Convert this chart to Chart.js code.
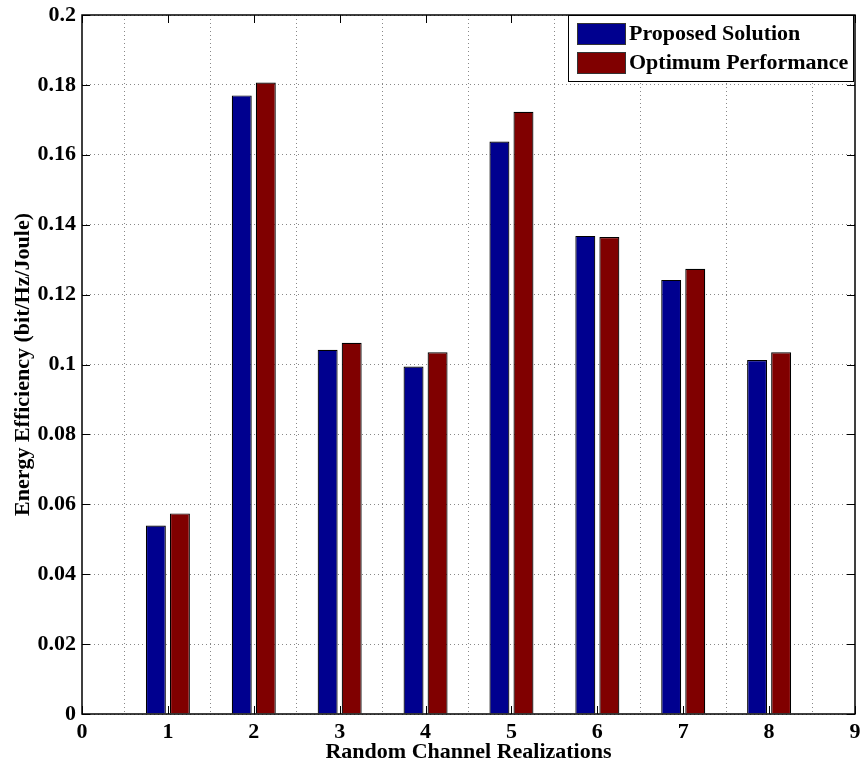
<!DOCTYPE html>
<html>
<head>
<meta charset="utf-8">
<script src="https://cdn.jsdelivr.net/npm/chart.js@4.4.1/dist/chart.umd.min.js"></script>
<style>
  html, body { margin: 0; padding: 0; background: #fff; }
  #wrap { width: 861px; height: 763px; }
</style>
</head>
<body>
<div id="wrap"><canvas id="chart" width="861" height="763"></canvas></div>
<script>
// Data
const realizations = [1, 2, 3, 4, 5, 6, 7, 8];
const proposed = [0.0539, 0.1770, 0.1042, 0.0994, 0.1638, 0.1368, 0.1242, 0.1013];
const optimum = [0.0574, 0.1807, 0.1062, 0.1035, 0.1723, 0.1365, 0.1274, 0.1035];
const seriesNames = ["Proposed Solution", "Optimum Performance"];
const seriesColors = ["#00008F", "#800000"];

const FONT = "'Liberation Serif', 'Times New Roman', serif";

// box round the plot, inward ticks, legend in top right corner
const boxAndLegend = {
  id: "boxAndLegend",
  afterDraw(chart) {
    const ctx = chart.ctx;
    const a = chart.chartArea;
    const xs = chart.scales.x, ys = chart.scales.y;
    ctx.save();
    ctx.strokeStyle = "#000";
    ctx.lineWidth = 1.5;
    ctx.strokeRect(a.left, a.top, a.right - a.left, a.bottom - a.top);

    // inward tick marks like matlab
    ctx.lineWidth = 1;
    ctx.beginPath();
    xs.ticks.forEach(t => {
      const px = Math.round(xs.getPixelForValue(t.value)) + 0.5;
      ctx.moveTo(px, a.bottom); ctx.lineTo(px, a.bottom - 8);
      ctx.moveTo(px, a.top); ctx.lineTo(px, a.top + 8);
    });
    ys.ticks.forEach(t => {
      const py = Math.round(ys.getPixelForValue(t.value)) + 0.5;
      ctx.moveTo(a.left, py); ctx.lineTo(a.left + 8, py);
      ctx.moveTo(a.right, py); ctx.lineTo(a.right - 8, py);
    });
    ctx.stroke();

    // legend
    const lx = 568, ly = a.top, lw = a.right - 568 - 2, lh = 66;
    ctx.fillStyle = "#fff";
    ctx.fillRect(lx, ly, lw, lh);
    ctx.strokeStyle = "#000";
    ctx.lineWidth = 1;
    ctx.strokeRect(lx + 0.5, ly + 0.5, lw, lh);
    ctx.font = "bold 22px " + FONT;
    ctx.textBaseline = "middle";
    seriesNames.forEach((name, i) => {
      const y = ly + 8 + i * 29;
      ctx.fillStyle = seriesColors[i];
      ctx.fillRect(577, y, 48, 21);
      ctx.strokeStyle = "#333";
      ctx.strokeRect(577.5, y + 0.5, 48, 21);
      ctx.fillStyle = "#000";
      ctx.fillText(name, 629, y + 11);
    });
    ctx.restore();
  }
};

const ctx = document.getElementById("chart").getContext("2d");
new Chart(ctx, {
  type: "bar",
  data: {
    datasets: [
      {
        label: seriesNames[0],
        data: realizations.map((r, i) => ({ x: r, y: proposed[i] })),
        backgroundColor: seriesColors[0],
        borderColor: "#000",
        borderWidth: 1.2
      },
      {
        label: seriesNames[1],
        data: realizations.map((r, i) => ({ x: r, y: optimum[i] })),
        backgroundColor: seriesColors[1],
        borderColor: "#000",
        borderWidth: 1.2
      }
    ]
  },
  options: {
    responsive: false,
    animation: false,
    events: [],
    layout: { padding: { top: 15, right: 6, left: 0, bottom: 0 } },
    categoryPercentage: 0.56,
    barPercentage: 0.83,
    plugins: { legend: { display: false }, tooltip: { enabled: false } },
    scales: {
      x: {
        type: "linear",
        min: 0,
        max: 9,
        offset: false,
        ticks: {
          stepSize: 1,
          color: "#000",
          font: { family: FONT, size: 22, weight: "bold", lineHeight: 1 },
          padding: 7,
          maxRotation: 0
        },
        grid: { color: "#888", drawTicks: false, lineWidth: 1 },
        border: { display: false, dash: [1, 3] },
        title: {
          display: true,
          text: "Random Channel Realizations",
          color: "#000",
          font: { family: FONT, size: 22, weight: "bold", lineHeight: 1 },
          padding: { top: 0, bottom: 0 }
        },
        afterFit(scale) {
          scale.height = 49;
          scale.paddingLeft = 0;
          scale.paddingRight = 0;
        }
      },
      y: {
        min: 0,
        max: 0.2,
        ticks: {
          stepSize: 0.02,
          color: "#000",
          font: { family: FONT, size: 22, weight: "bold", lineHeight: 1 },
          padding: 6,
          callback: v => String(Number(v.toFixed(2)))
        },
        grid: { color: "#888", drawTicks: false, lineWidth: 1 },
        border: { display: false, dash: [1, 3] },
        title: {
          display: true,
          text: "Energy Efficiency (bit/Hz/Joule)",
          color: "#000",
          font: { family: FONT, size: 22, weight: "bold", lineHeight: 1 },
          padding: { top: 12, bottom: 0 }
        },
        afterFit(scale) {
          scale.width = 82;
          scale.paddingTop = 0;
          scale.paddingBottom = 0;
        }
      }
    }
  },
  plugins: [boxAndLegend]
});
</script>
</body>
</html>
